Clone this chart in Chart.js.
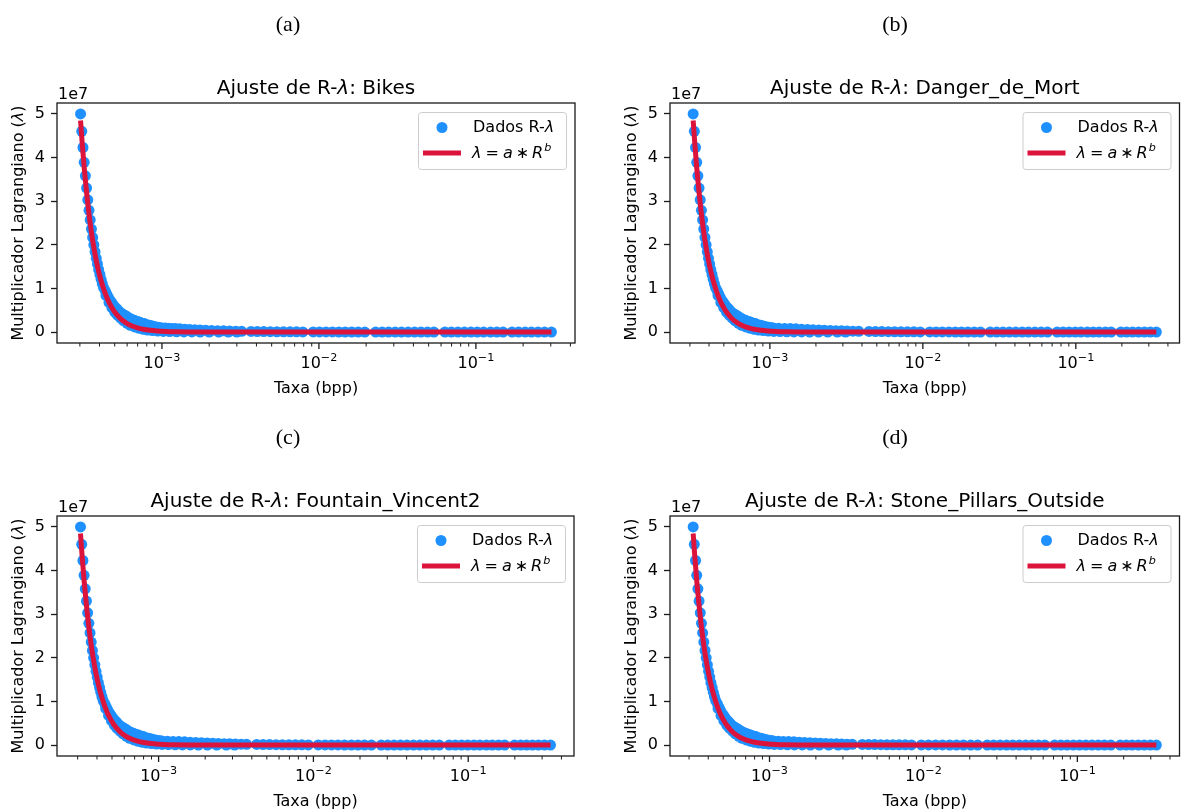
<!DOCTYPE html>
<html>
<head>
<meta charset="utf-8">
<script src="https://cdn.jsdelivr.net/npm/chart.js@4.4.1/dist/chart.umd.min.js"></script>
<style>
  html, body { margin: 0; padding: 0; background: #fff; overflow: hidden; }
  body { width: 1185px; height: 811px; position: relative; }
  canvas { position: absolute; }
</style>
</head>
<body>
<canvas id="panelA" width="592" height="411" style="left:0px;top:0px"></canvas>
<canvas id="panelB" width="572" height="411" style="left:613px;top:0px"></canvas>
<canvas id="panelC" width="592" height="398" style="left:0px;top:413px"></canvas>
<canvas id="panelD" width="572" height="398" style="left:613px;top:413px"></canvas>
<script>
// lambda values (in units of 1e7), same lambda grid for all four images
const lambdaData = [
  5.00, 4.60, 4.23, 3.89, 3.58, 3.30, 3.03, 2.79, 2.57, 2.36,
  2.17, 2.00, 1.84, 1.69, 1.56, 1.43, 1.32, 1.21, 1.11, 1.02,
  0.94, 0.87, 0.80, 0.73, 0.68, 0.62, 0.57, 0.53, 0.48, 0.44,
  0.41, 0.38, 0.35, 0.32, 0.29, 0.27, 0.25, 0.23, 0.21, 0.195,
  0.17, 0.155, 0.14, 0.125, 0.11, 0.10,
  0.095, 0.09, 0.085, 0.08, 0.074, 0.067, 0.06, 0.054, 0.048, 0.042,
  0.037, 0.032, 0.028, 0.024, 0.021, 0.018, 0.015, 0.013, 0.011, 0.009,
  0.008, 0.007, 0.006, 0.005, 0.004, 0.0035, 0.003, 0.003, 0.0025, 0.002,
  0.002, 0.0018, 0.0015, 0.0013, 0.0012, 0.001, 0.001, 0.0009, 0.0008, 0.0007,
  0.0006, 0.0006, 0.0005, 0.0005, 0.0004, 0.0004, 0.0003, 0.0003, 0.0003, 0.0002,
  0.0002, 0.0002, 0.0002, 0.0001, 0.0001, 0.0001, 0.0001, 0.0001, 0.0001, 0.0001, 0.0001
];
// second group of points lying on the lower side of the band, around the knee
const lambdaLow = [0.84, 0.68, 0.56, 0.46, 0.39, 0.32, 0.26, 0.20, 0.155, 0.117,
  0.09, 0.064, 0.048, 0.035, 0.024, 0.016, 0.011, 0.007, 0.004, 0.0025,
  0.0015, 0.0008, 0.0005, 0.0003, 0.0001];

// rates (bpp) for each image
const ratesBikes = [
  3.030e-4, 3.084e-4, 3.140e-4, 3.196e-4, 3.253e-4, 3.311e-4, 3.370e-4, 3.431e-4, 3.492e-4, 3.555e-4,
  3.618e-4, 3.683e-4, 3.749e-4, 3.816e-4, 3.884e-4, 3.953e-4, 4.024e-4, 4.096e-4, 4.169e-4, 4.244e-4,
  4.360e-4, 4.450e-4, 4.550e-4, 4.660e-4, 4.780e-4, 4.900e-4, 5.030e-4, 5.170e-4, 5.320e-4, 5.480e-4,
  5.650e-4, 5.830e-4, 6.020e-4, 6.220e-4, 6.440e-4, 6.670e-4, 6.910e-4, 7.170e-4, 7.440e-4, 7.730e-4,
  8.040e-4, 8.370e-4, 8.720e-4, 9.090e-4, 9.480e-4, 9.900e-4,
  1.05e-3, 1.10e-3, 1.16e-3, 1.22e-3, 1.30e-3, 1.40e-3, 1.50e-3, 1.62e-3, 1.75e-3, 1.90e-3,
  2.07e-3, 2.26e-3, 2.47e-3, 2.70e-3, 2.95e-3, 3.22e-3,
  3.70e-3, 4.05e-3, 4.45e-3, 4.90e-3, 5.40e-3, 5.95e-3, 6.55e-3, 7.20e-3, 7.90e-3,
  9.20e-3, 1.01e-2, 1.11e-2, 1.22e-2, 1.34e-2, 1.47e-2, 1.62e-2, 1.78e-2, 1.96e-2,
  2.30e-2, 2.53e-2, 2.78e-2, 3.06e-2, 3.36e-2, 3.70e-2, 4.07e-2, 4.47e-2, 4.92e-2, 5.40e-2,
  6.35e-2, 6.98e-2, 7.68e-2, 8.45e-2, 9.30e-2, 0.102, 0.112, 0.124, 0.136, 0.149,
  0.170, 0.187, 0.206, 0.226, 0.249, 0.274, 0.303
];
const ratesDanger = [
  3.151e-4, 3.207e-4, 3.266e-4, 3.324e-4, 3.383e-4, 3.443e-4, 3.505e-4, 3.568e-4, 3.632e-4, 3.697e-4,
  3.763e-4, 3.830e-4, 3.899e-4, 3.969e-4, 4.039e-4, 4.111e-4, 4.185e-4, 4.260e-4, 4.336e-4, 4.414e-4,
  4.534e-4, 4.628e-4, 4.732e-4, 4.846e-4, 4.971e-4, 5.096e-4, 5.231e-4, 5.377e-4, 5.533e-4, 5.699e-4,
  5.876e-4, 6.063e-4, 6.261e-4, 6.469e-4, 6.698e-4, 6.937e-4, 7.186e-4, 7.457e-4, 7.738e-4, 8.039e-4,
  8.362e-4, 8.705e-4, 9.069e-4, 9.454e-4, 9.859e-4, 1.0296e-3,
  1.05e-3, 1.14e-3, 1.25e-3, 1.36e-3, 1.48e-3, 1.61e-3, 1.76e-3, 1.91e-3, 2.09e-3, 2.27e-3,
  2.48e-3, 2.70e-3, 2.94e-3, 3.20e-3, 3.49e-3, 3.81e-3,
  4.45e-3, 4.90e-3, 5.39e-3, 5.94e-3, 6.54e-3, 7.20e-3, 7.93e-3, 8.73e-3, 9.61e-3,
  1.11e-2, 1.22e-2, 1.34e-2, 1.48e-2, 1.63e-2, 1.79e-2, 1.97e-2, 2.17e-2, 2.38e-2,
  2.76e-2, 3.04e-2, 3.34e-2, 3.68e-2, 4.05e-2, 4.46e-2, 4.90e-2, 5.40e-2, 5.94e-2, 6.53e-2,
  7.55e-2, 8.26e-2, 9.04e-2, 9.90e-2, 0.108, 0.119, 0.130, 0.142, 0.156, 0.170,
  0.197, 0.215, 0.235, 0.257, 0.281, 0.307, 0.336
];
const ratesFountain = [
  3.130e-4, 3.186e-4, 3.244e-4, 3.301e-4, 3.360e-4, 3.420e-4, 3.481e-4, 3.544e-4, 3.607e-4, 3.672e-4,
  3.737e-4, 3.805e-4, 3.873e-4, 3.942e-4, 4.012e-4, 4.083e-4, 4.157e-4, 4.231e-4, 4.307e-4, 4.384e-4,
  4.504e-4, 4.597e-4, 4.700e-4, 4.814e-4, 4.938e-4, 5.062e-4, 5.196e-4, 5.341e-4, 5.496e-4, 5.661e-4,
  5.836e-4, 6.022e-4, 6.219e-4, 6.425e-4, 6.653e-4, 6.890e-4, 7.138e-4, 7.407e-4, 7.686e-4, 7.985e-4,
  8.305e-4, 8.646e-4, 9.008e-4, 9.390e-4, 9.793e-4, 1.0227e-3,
  1.05e-3, 1.14e-3, 1.24e-3, 1.35e-3, 1.47e-3, 1.60e-3, 1.74e-3, 1.89e-3, 2.06e-3, 2.24e-3,
  2.43e-3, 2.65e-3, 2.88e-3, 3.13e-3, 3.41e-3, 3.70e-3,
  4.30e-3, 4.73e-3, 5.21e-3, 5.74e-3, 6.31e-3, 6.95e-3, 7.65e-3, 8.42e-3, 9.27e-3,
  1.075e-2, 1.19e-2, 1.31e-2, 1.44e-2, 1.59e-2, 1.76e-2, 1.94e-2, 2.14e-2, 2.37e-2,
  2.74e-2, 3.02e-2, 3.32e-2, 3.65e-2, 4.02e-2, 4.43e-2, 4.87e-2, 5.36e-2, 5.90e-2, 6.50e-2,
  7.54e-2, 8.26e-2, 9.06e-2, 9.93e-2, 0.109, 0.119, 0.131, 0.143, 0.157, 0.172,
  0.199, 0.218, 0.238, 0.260, 0.284, 0.311, 0.340
];
const ratesStone = [
  3.191e-4, 3.247e-4, 3.306e-4, 3.365e-4, 3.425e-4, 3.486e-4, 3.549e-4, 3.613e-4, 3.677e-4, 3.743e-4,
  3.810e-4, 3.878e-4, 3.948e-4, 4.018e-4, 4.090e-4, 4.162e-4, 4.237e-4, 4.313e-4, 4.390e-4, 4.469e-4,
  4.591e-4, 4.686e-4, 4.791e-4, 4.907e-4, 5.033e-4, 5.160e-4, 5.297e-4, 5.444e-4, 5.602e-4, 5.770e-4,
  5.949e-4, 6.139e-4, 6.339e-4, 6.550e-4, 6.781e-4, 7.024e-4, 7.276e-4, 7.550e-4, 7.834e-4, 8.140e-4,
  8.466e-4, 8.814e-4, 9.182e-4, 9.571e-4, 9.982e-4, 1.0424e-3,
  1.05e-3, 1.14e-3, 1.23e-3, 1.33e-3, 1.44e-3, 1.56e-3, 1.69e-3, 1.83e-3, 1.98e-3, 2.14e-3,
  2.32e-3, 2.51e-3, 2.72e-3, 2.94e-3, 3.19e-3, 3.45e-3,
  4.01e-3, 4.40e-3, 4.82e-3, 5.28e-3, 5.79e-3, 6.34e-3, 6.95e-3, 7.62e-3, 8.36e-3,
  9.70e-3, 1.08e-2, 1.20e-2, 1.33e-2, 1.48e-2, 1.64e-2, 1.82e-2, 2.03e-2, 2.25e-2,
  2.60e-2, 2.86e-2, 3.15e-2, 3.47e-2, 3.81e-2, 4.20e-2, 4.62e-2, 5.08e-2, 5.59e-2, 6.15e-2,
  7.12e-2, 7.82e-2, 8.58e-2, 9.42e-2, 0.1034, 0.1135, 0.1246, 0.1368, 0.150, 0.165,
  0.190, 0.208, 0.227, 0.249, 0.272, 0.298, 0.326
];

// rates of the lower group (pairs with lambdaLow)
const ratesBikesLow = [4.40e-4, 4.60e-4, 4.80e-4, 5.00e-4, 5.20e-4, 5.45e-4, 5.70e-4, 6.00e-4, 6.30e-4, 6.70e-4,
  7.10e-4, 7.60e-4, 8.10e-4, 8.70e-4, 9.40e-4, 1.02e-3, 1.12e-3, 1.24e-3, 1.38e-3, 1.55e-3,
  1.75e-3, 2.00e-3, 2.30e-3, 2.65e-3, 3.00e-3];
const ratesDangerLow = [4.58e-4, 4.78e-4, 4.99e-4, 5.20e-4, 5.41e-4, 5.67e-4, 5.93e-4, 6.24e-4, 6.55e-4, 6.97e-4,
  7.38e-4, 7.90e-4, 8.42e-4, 9.05e-4, 9.78e-4, 1.061e-3, 1.165e-3, 1.290e-3, 1.435e-3, 1.612e-3,
  1.820e-3, 2.08e-3, 2.39e-3, 2.76e-3, 3.12e-3];
const ratesFountainLow = [4.55e-4, 4.75e-4, 4.96e-4, 5.17e-4, 5.37e-4, 5.63e-4, 5.89e-4, 6.20e-4, 6.51e-4, 6.92e-4,
  7.33e-4, 7.85e-4, 8.37e-4, 8.99e-4, 9.71e-4, 1.054e-3, 1.157e-3, 1.281e-3, 1.426e-3, 1.601e-3,
  1.808e-3, 2.066e-3, 2.376e-3, 2.737e-3, 3.099e-3];
const ratesStoneLow = [4.63e-4, 4.84e-4, 5.05e-4, 5.27e-4, 5.48e-4, 5.74e-4, 6.00e-4, 6.32e-4, 6.63e-4, 7.06e-4,
  7.48e-4, 8.00e-4, 8.53e-4, 9.16e-4, 9.90e-4, 1.074e-3, 1.179e-3, 1.306e-3, 1.453e-3, 1.632e-3,
  1.843e-3, 2.106e-3, 2.422e-3, 2.790e-3, 3.159e-3];

// fitted curve lambda = a * R^b
const fitLambda = [4.85, 4.36, 3.75, 3.25, 2.82, 2.46, 2.10, 1.78, 1.48, 1.24,
  1.05, 0.84, 0.68, 0.56, 0.46, 0.35, 0.27, 0.195, 0.144, 0.095,
  0.064, 0.040, 0.025, 0.014, 0.0075, 0.0026, 0.0008, 0.0001, 0, 0];
const fitRatesBikes = [3.03e-4, 3.10e-4, 3.20e-4, 3.30e-4, 3.40e-4, 3.50e-4, 3.62e-4, 3.75e-4, 3.90e-4, 4.05e-4,
  4.20e-4, 4.40e-4, 4.60e-4, 4.80e-4, 5.00e-4, 5.30e-4, 5.60e-4, 6.00e-4, 6.40e-4, 7.00e-4,
  7.60e-4, 8.40e-4, 9.30e-4, 1.05e-3, 1.20e-3, 1.50e-3, 2.00e-3, 3.00e-3, 1.00e-2, 0.303];
const fitRatesDanger = [3.151e-4, 3.224e-4, 3.328e-4, 3.432e-4, 3.536e-4, 3.640e-4, 3.765e-4, 3.900e-4, 4.056e-4, 4.212e-4,
  4.368e-4, 4.576e-4, 4.784e-4, 4.992e-4, 5.200e-4, 5.512e-4, 5.824e-4, 6.240e-4, 6.656e-4, 7.280e-4,
  7.904e-4, 8.736e-4, 9.672e-4, 1.092e-3, 1.248e-3, 1.560e-3, 2.080e-3, 3.120e-3, 1.040e-2, 0.336];
const fitRatesFountain = [3.130e-4, 3.202e-4, 3.306e-4, 3.409e-4, 3.512e-4, 3.616e-4, 3.739e-4, 3.874e-4, 4.029e-4, 4.184e-4,
  4.339e-4, 4.545e-4, 4.752e-4, 4.958e-4, 5.165e-4, 5.475e-4, 5.785e-4, 6.198e-4, 6.611e-4, 7.231e-4,
  7.851e-4, 8.677e-4, 9.607e-4, 1.085e-3, 1.240e-3, 1.550e-3, 2.066e-3, 3.099e-3, 1.033e-2, 0.340];
const fitRatesStone = [3.191e-4, 3.264e-4, 3.370e-4, 3.475e-4, 3.580e-4, 3.686e-4, 3.812e-4, 3.949e-4, 4.107e-4, 4.265e-4,
  4.423e-4, 4.633e-4, 4.844e-4, 5.054e-4, 5.265e-4, 5.581e-4, 5.897e-4, 6.318e-4, 6.739e-4, 7.371e-4,
  8.003e-4, 8.845e-4, 9.793e-4, 1.106e-3, 1.264e-3, 1.580e-3, 2.106e-3, 3.159e-3, 1.053e-2, 0.326];

const imageNames = ['Bikes', 'Danger_de_Mort', 'Fountain_Vincent2', 'Stone_Pillars_Outside'];
const panelLetters = ['(a)', '(b)', '(c)', '(d)'];
const yTicks = [0, 1, 2, 3, 4, 5];
const xMajorTicks = [1e-3, 1e-2, 1e-1];
const xTickExponents = ['\u22123', '\u22122', '\u22121'];

const FONT = '"DejaVu Sans", sans-serif';
const AXIS_COLOR = '#1a1a1a';
const BLUE = '#1E90FF';
const RED = '#DC143C';

const panels = [
  { id: 'panelA', left: 0, padRight: 17, letterX: 288, rates: ratesBikes, low: ratesBikesLow, fitRates: fitRatesBikes },
  { id: 'panelB', left: 613, padRight: 2, letterX: 895, rates: ratesDanger, low: ratesDangerLow, fitRates: fitRatesDanger },
  { id: 'panelC', left: 0, padRight: 18, letterX: 288, rates: ratesFountain, low: ratesFountainLow, fitRates: fitRatesFountain },
  { id: 'panelD', left: 613, padRight: 1, letterX: 895, rates: ratesStone, low: ratesStoneLow, fitRates: fitRatesStone }
];

function font(size, italic) {
  return (italic ? 'italic ' : '') + size + 'px ' + FONT;
}

// draws a row of text pieces (some italic / superscript), left or centred at x
function drawPieces(ctx, pieces, x, y, align) {
  var total = 0;
  pieces.forEach(function (p) {
    ctx.font = p.font;
    p.w = ctx.measureText(p.text).width;
    total += p.w + (p.gap || 0);
  });
  var cx = align === 'center' ? x - total / 2 : x;
  ctx.textAlign = 'left';
  ctx.textBaseline = 'alphabetic';
  pieces.forEach(function (p) {
    ctx.font = p.font;
    ctx.fillText(p.text, cx, y - (p.rise || 0));
    cx += p.w + (p.gap || 0);
  });
}

const decorPlugin = {
  id: 'decor',
  afterDraw(chart, args, opts) {
    const ctx = chart.ctx;
    const a = chart.chartArea;
    const xs = chart.scales.x;
    const p = opts.panel;
    ctx.save();
    ctx.fillStyle = '#000';

    // subfigure letter
    ctx.font = '22px "Liberation Serif", serif';
    ctx.textAlign = 'center';
    ctx.textBaseline = 'alphabetic';
    ctx.fillText(p.letter, p.letterX - p.left, a.top - 72);

    // frame
    ctx.strokeStyle = AXIS_COLOR;
    ctx.lineWidth = 1.3;
    ctx.strokeRect(a.left, a.top, a.right - a.left, a.bottom - a.top);

    // log x ticks, major and minor
    const lo = Math.floor(Math.log10(xs.min));
    const hi = Math.ceil(Math.log10(xs.max));
    for (let e = lo; e <= hi; e++) {
      for (let m = 1; m <= 9; m++) {
        const v = m * Math.pow(10, e);
        if (v < xs.min || v > xs.max) continue;
        const px = xs.getPixelForValue(v);
        ctx.lineWidth = m === 1 ? 1.3 : 1;
        ctx.beginPath();
        ctx.moveTo(px, a.bottom);
        ctx.lineTo(px, a.bottom + (m === 1 ? 6 : 3.5));
        ctx.stroke();
      }
    }
    xMajorTicks.forEach(function (v, i) {
      const px = xs.getPixelForValue(v);
      drawPieces(ctx, [
        { text: '10', font: font(16) },
        { text: xTickExponents[i], font: font(11.2), rise: 7 }
      ], px, a.bottom + 25, 'center');
    });

    // title, axis labels, offset text
    const cxMid = (a.left + a.right) / 2;
    drawPieces(ctx, [
      { text: 'Ajuste de R-', font: font(20) },
      { text: '\u03bb', font: font(20, true) },
      { text: ': ' + p.name, font: font(20) }
    ], cxMid, a.top - 9, 'center');
    drawPieces(ctx, [{ text: 'Taxa (bpp)', font: font(16) }], cxMid, a.bottom + 50, 'center');
    drawPieces(ctx, [{ text: '1e7', font: font(16) }], a.left + 1, a.top - 4, 'left');

    ctx.save();
    ctx.translate(a.left - 34, (a.top + a.bottom) / 2);
    ctx.rotate(-Math.PI / 2);
    drawPieces(ctx, [
      { text: 'Multiplicador Lagrangiano (', font: font(16) },
      { text: '\u03bb', font: font(16, true) },
      { text: ')', font: font(16) }
    ], 0, 0, 'center');
    ctx.restore();

    // legend
    const bw = 148, bh = 57;
    const bx = a.right - 9 - bw, by = a.top + 9;
    ctx.fillStyle = 'rgba(255,255,255,0.8)';
    ctx.strokeStyle = '#cccccc';
    ctx.lineWidth = 1;
    ctx.beginPath();
    ctx.roundRect(bx + 0.5, by + 0.5, bw, bh, 3);
    ctx.fill();
    ctx.stroke();

    ctx.fillStyle = BLUE;
    ctx.beginPath();
    ctx.arc(bx + 24, by + 15.5, 5.5, 0, Math.PI * 2);
    ctx.fill();
    ctx.strokeStyle = RED;
    ctx.lineWidth = 5;
    ctx.beginPath();
    ctx.moveTo(bx + 5, by + 41);
    ctx.lineTo(bx + 43, by + 41);
    ctx.stroke();

    ctx.fillStyle = '#000';
    drawPieces(ctx, [
      { text: 'Dados R-', font: font(16) },
      { text: '\u03bb', font: font(16, true) }
    ], bx + 55, by + 20, 'left');
    drawPieces(ctx, [
      { text: '\u03bb', font: font(16, true), gap: 4 },
      { text: '=', font: font(16), gap: 4 },
      { text: 'a', font: font(16, true), gap: 3 },
      { text: '\u2217', font: font(16), gap: 3 },
      { text: 'R', font: font(16, true), gap: 1 },
      { text: 'b', font: font(11.2, true), rise: 7 }
    ], bx + 54, by + 46, 'left');

    ctx.restore();
  }
};

function makePanel(p, idx) {
  const canvas = document.getElementById(p.id);
  p.name = imageNames[idx];
  p.letter = panelLetters[idx];

  const allRates = p.rates.concat(p.low, p.fitRates);
  const lo = Math.log10(Math.min.apply(null, allRates));
  const hi = Math.log10(Math.max.apply(null, allRates));
  const span = hi - lo;

  const scatterPts = p.rates.map(function (r, i) { return { x: r, y: lambdaData[i] }; })
    .concat(p.low.map(function (r, i) { return { x: r, y: lambdaLow[i] }; }));
  const fitPts = p.fitRates.map(function (r, i) { return { x: r, y: fitLambda[i] }; });
  const xAxisHeight = canvas.height - 103 - 240;

  return new Chart(canvas, {
    type: 'scatter',
    data: {
      datasets: [{
        type: 'line',
        label: 'fit',
        data: fitPts,
        borderColor: RED,
        borderWidth: 5,
        pointRadius: 0,
        fill: false,
        cubicInterpolationMode: 'monotone',
        order: 0
      }, {
        type: 'scatter',
        label: 'Dados',
        data: scatterPts,
        backgroundColor: BLUE,
        borderWidth: 0,
        pointRadius: 5.5,
        order: 1
      }]
    },
    options: {
      responsive: false,
      animation: false,
      devicePixelRatio: 1,
      events: [],
      layout: { padding: { top: 103, right: p.padRight, left: 0, bottom: 0 } },
      plugins: {
        legend: { display: false },
        tooltip: { enabled: false },
        decor: { panel: p }
      },
      scales: {
        x: {
          type: 'logarithmic',
          min: Math.pow(10, lo - 0.05 * span),
          max: Math.pow(10, hi + 0.05 * span),
          grid: { display: false },
          border: { display: false },
          ticks: { display: false },
          afterFit: function (scale) { scale.height = xAxisHeight; }
        },
        y: {
          type: 'linear',
          min: -0.25,
          max: 5.25,
          border: { display: false },
          grid: {
            drawOnChartArea: false,
            drawTicks: true,
            tickLength: 6,
            tickWidth: 1.3,
            tickColor: AXIS_COLOR
          },
          ticks: {
            padding: 6,
            color: '#000',
            font: { family: FONT, size: 16 },
            callback: function (v) { return String(v); }
          },
          afterBuildTicks: function (scale) {
            scale.ticks = yTicks.map(function (v) { return { value: v }; });
          },
          afterFit: function (scale) { scale.width = 57; }
        }
      }
    },
    plugins: [decorPlugin]
  });
}

panels.forEach(makePanel);
</script>
</body>
</html>
